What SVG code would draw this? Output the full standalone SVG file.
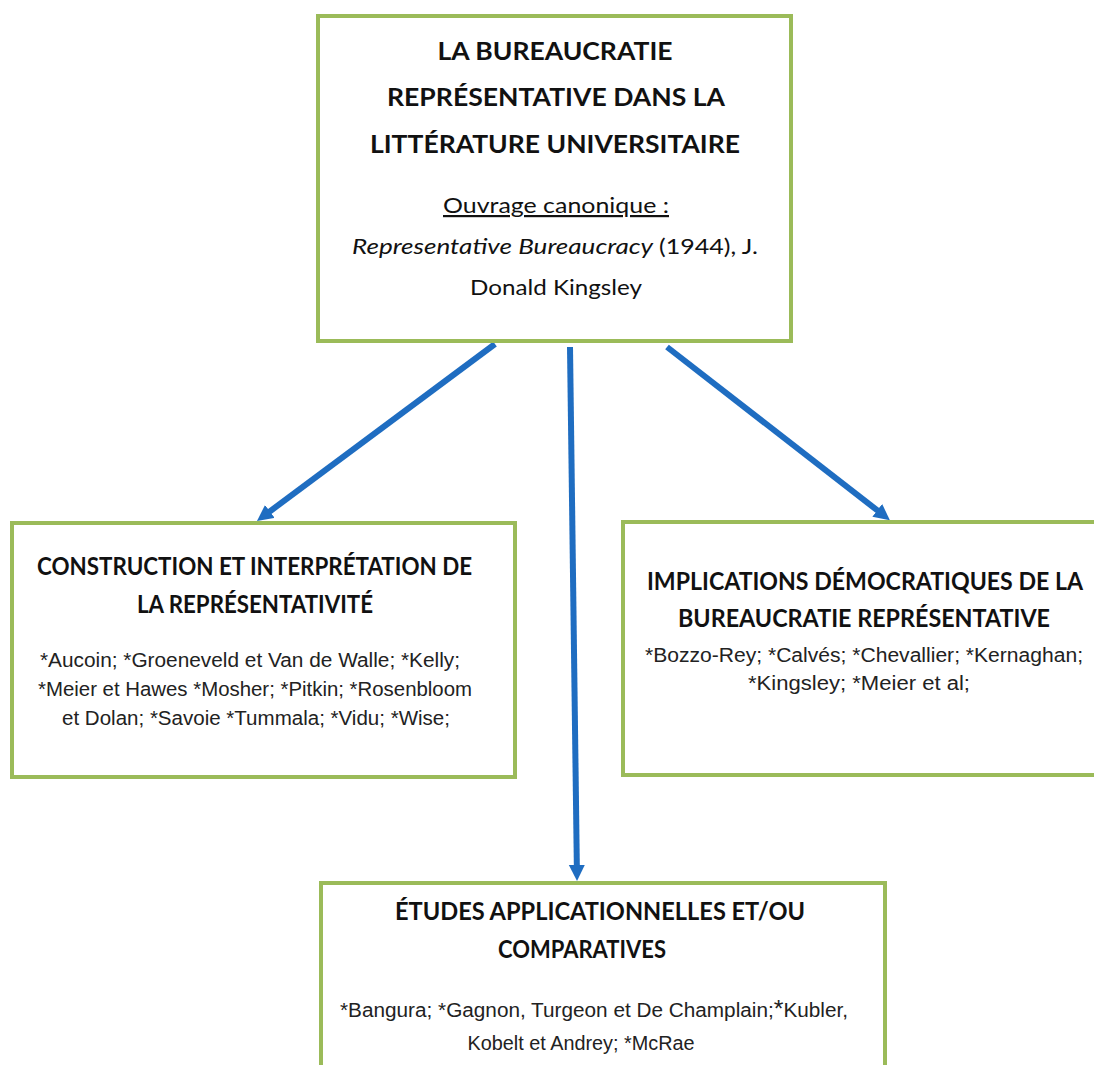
<svg xmlns="http://www.w3.org/2000/svg" width="1094" height="1065" viewBox="0 0 1094 1065">
<defs>
<marker id="ah" markerUnits="userSpaceOnUse" markerWidth="18" markerHeight="18" refX="6" refY="8" orient="auto">
<path d="M0,0 L16,8 L0,16 Z" fill="#1f6dc1"/>
</marker>
<style>
.box{fill:#fff;stroke:#9bbb59;stroke-width:4}
.h{font-family:Lato,"Open Sans","Liberation Sans",sans-serif;font-weight:bold;font-size:25px;fill:#111;text-anchor:middle}
.c{font-family:Lato,"Open Sans","Liberation Sans",sans-serif;font-size:22px;fill:#111}
.b{font-family:"Liberation Sans",Arial,sans-serif;font-size:20px;fill:#222;text-anchor:middle}
.arr{stroke:#1f6dc1;stroke-width:6;fill:none;marker-end:url(#ah)}
</style>
</defs>
<rect width="1094" height="1065" fill="#fff"/>
<g id="connectors">
<line class="arr" x1="495" y1="344" x2="265" y2="515"/>
<line class="arr" x1="570" y1="347" x2="576.9" y2="871"/>
<line class="arr" x1="667" y1="347" x2="882" y2="514"/>
</g>
<g id="top">
<rect class="box" x="318" y="16" width="473" height="325"/>
<text class="h" x="555" y="60" textLength="235" lengthAdjust="spacingAndGlyphs">LA BUREAUCRATIE</text>
<text class="h" x="556" y="106" textLength="338" lengthAdjust="spacingAndGlyphs">REPRÉSENTATIVE DANS LA</text>
<text class="h" x="555" y="153" textLength="370" lengthAdjust="spacingAndGlyphs">LITTÉRATURE UNIVERSITAIRE</text>
<text class="c" x="556" y="213" text-anchor="middle" text-decoration="underline" textLength="226" lengthAdjust="spacingAndGlyphs">Ouvrage canonique :</text>
<text class="c" x="352" y="254" font-style="italic" textLength="301" lengthAdjust="spacingAndGlyphs">Representative Bureaucracy</text>
<text class="c" x="659" y="254" textLength="99" lengthAdjust="spacingAndGlyphs">(1944), J.</text>
<text class="c" x="556" y="295" text-anchor="middle" textLength="172" lengthAdjust="spacingAndGlyphs">Donald Kingsley</text>
</g>
<g id="left">
<rect class="box" x="12" y="523" width="503" height="254"/>
<text class="h" x="254.5" y="575" textLength="435" lengthAdjust="spacingAndGlyphs">CONSTRUCTION ET INTERPRÉTATION DE</text>
<text class="h" x="255" y="613" textLength="236" lengthAdjust="spacingAndGlyphs">LA REPRÉSENTATIVITÉ</text>
<text class="b" x="250" y="667" textLength="420" lengthAdjust="spacingAndGlyphs">*Aucoin; *Groeneveld et Van de Walle; *Kelly;</text>
<text class="b" x="255" y="696" textLength="434" lengthAdjust="spacingAndGlyphs">*Meier et Hawes *Mosher; *Pitkin; *Rosenbloom</text>
<text class="b" x="256" y="725" textLength="388" lengthAdjust="spacingAndGlyphs">et Dolan; *Savoie *Tummala; *Vidu; *Wise;</text>
</g>
<g id="right">
<rect class="box" x="623" y="522" width="490" height="253"/>
<text class="h" x="865" y="590" textLength="436" lengthAdjust="spacingAndGlyphs">IMPLICATIONS DÉMOCRATIQUES DE LA</text>
<text class="h" x="864" y="627" textLength="372" lengthAdjust="spacingAndGlyphs">BUREAUCRATIE REPRÉSENTATIVE</text>
<text class="b" x="864" y="662" textLength="438" lengthAdjust="spacingAndGlyphs">*Bozzo-Rey; *Calvés; *Chevallier; *Kernaghan;</text>
<text class="b" x="859" y="690" textLength="222" lengthAdjust="spacingAndGlyphs">*Kingsley; *Meier et al;</text>
</g>
<g id="bottom">
<rect class="box" x="321" y="883" width="564" height="200"/>
<text class="h" x="600" y="920" textLength="410" lengthAdjust="spacingAndGlyphs">ÉTUDES APPLICATIONNELLES ET/OU</text>
<text class="h" x="582" y="958" textLength="168" lengthAdjust="spacingAndGlyphs">COMPARATIVES</text>
<text class="b" x="594" y="1017" textLength="508" lengthAdjust="spacingAndGlyphs">*Bangura; *Gagnon, Turgeon et De Champlain;<tspan font-size="24">*</tspan>Kubler,</text>
<text class="b" x="581" y="1050" textLength="227" lengthAdjust="spacingAndGlyphs">Kobelt et Andrey; *McRae</text>
</g>
</svg>
